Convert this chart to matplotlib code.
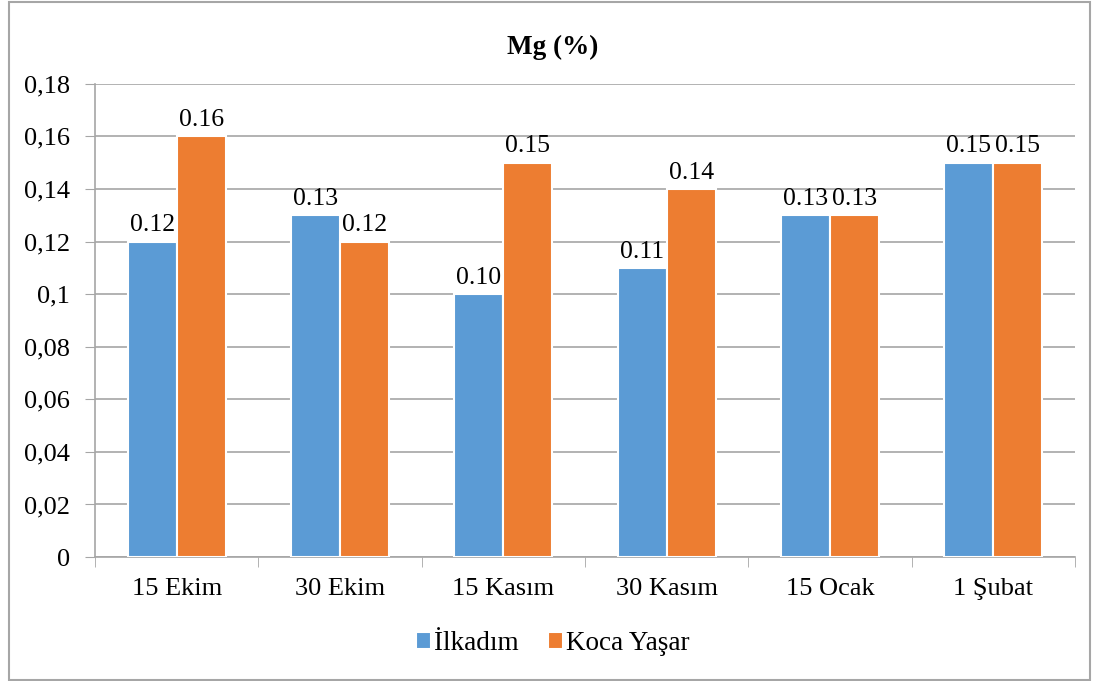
import matplotlib.pyplot as plt
import matplotlib.patches as patches
import numpy as np

plt.rcParams['font.family'] = ['Liberation Serif', 'DejaVu Serif']

tarihler = ['15 Ekim', '30 Ekim', '15 Kasım', '30 Kasım', '15 Ocak', '1 Şubat']
ilkadim = [0.12, 0.13, 0.10, 0.11, 0.13, 0.15]
koca_yasar = [0.16, 0.12, 0.15, 0.14, 0.13, 0.15]
y_ticks = [0, 0.02, 0.04, 0.06, 0.08, 0.1, 0.12, 0.14, 0.16, 0.18]
y_etiket = ['0', '0,02', '0,04', '0,06', '0,08', '0,1', '0,12', '0,14', '0,16', '0,18']

mavi = '#5b9bd5'
turuncu = '#ed7d31'
gri = '#a6a6a6'

fig = plt.figure(figsize=(11.05, 6.81), dpi=100)
ax = fig.add_axes([0.086, 0.182, 0.887, 0.695])

x = np.arange(len(tarihler))
w = 0.3
ax.bar(x - w / 2, ilkadim, w, color=mavi, edgecolor='white', linewidth=1.5, label='İlkadım', zorder=3)
ax.bar(x + w / 2, koca_yasar, w, color=turuncu, edgecolor='white', linewidth=1.5, label='Koca Yaşar', zorder=3)

for xi, v in zip(x, ilkadim):
    ax.text(xi - w / 2, v + 0.002, f'{v:.2f}', ha='center', va='bottom', fontsize=18.5)
for xi, v in zip(x, koca_yasar):
    ax.text(xi + w / 2, v + 0.002, f'{v:.2f}', ha='center', va='bottom', fontsize=18.5)

ax.set_xlim(-0.5, len(tarihler) - 0.5)
ax.set_ylim(0, 0.18)
ax.set_yticks(y_ticks)
ax.set_yticklabels(y_etiket, fontsize=19)
ax.set_xticks(x)
ax.set_xticklabels(tarihler, fontsize=19)
ax.tick_params(axis='x', length=0, pad=15)
ax.set_xticks(np.arange(len(tarihler) + 1) - 0.5, minor=True)
ax.tick_params(axis='x', which='minor', length=7, color=gri)
ax.tick_params(axis='y', length=7, color=gri, pad=11)
ax.grid(axis='y', color=gri, linewidth=1.2, zorder=0)
for s in ['top', 'right']:
    ax.spines[s].set_visible(False)
for s in ['left', 'bottom']:
    ax.spines[s].set_color(gri)
    ax.spines[s].set_linewidth(1.2)

fig.text(0.5, 0.93, 'Mg (%)', ha='center', va='center', fontsize=19.5, fontweight='bold')

fig.legend(loc='center', bbox_to_anchor=(0.5, 0.055), ncol=2, frameon=False, fontsize=19.5,
           handlelength=0.55, handleheight=0.55, handletextpad=0.1, columnspacing=1.1)

cerceve = patches.Rectangle((0.008, 0.002), 0.978, 0.995, transform=fig.transFigure,
                            fill=False, edgecolor=gri, linewidth=1.5)
fig.patches.append(cerceve)

fig.savefig('out.png', dpi=100)
